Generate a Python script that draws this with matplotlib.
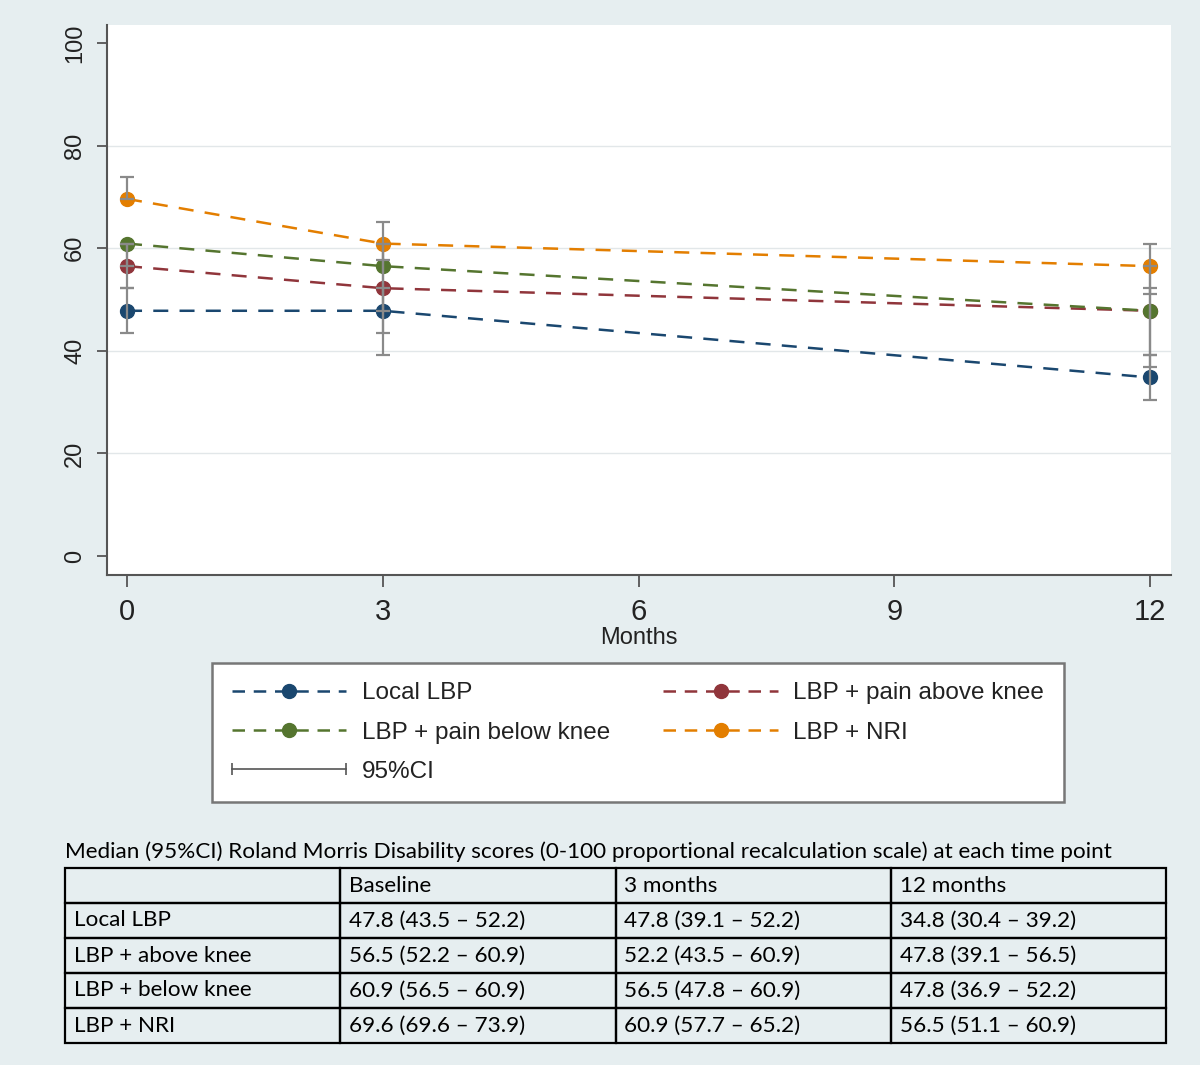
import matplotlib
matplotlib.use('Agg')
import matplotlib.pyplot as plt
from matplotlib.lines import Line2D
from matplotlib.legend_handler import HandlerLine2D
import matplotlib.font_manager as fm

# ---------------- data ----------------
months = [0, 3, 12]
series_labels = ['Local LBP', 'LBP + pain above knee', 'LBP + pain below knee', 'LBP + NRI']
table_row_labels = ['Local LBP', 'LBP + above knee', 'LBP + below knee', 'LBP + NRI']
table_col_labels = ['Baseline', '3 months', '12 months']
colors = ['#1a476f', '#90353b', '#55752f', '#e37e00']

local_med = [47.8, 47.8, 34.8]
local_lo = [43.5, 39.1, 30.4]
local_hi = [52.2, 52.2, 39.2]
above_med = [56.5, 52.2, 47.8]
above_lo = [52.2, 43.5, 39.1]
above_hi = [60.9, 60.9, 56.5]
below_med = [60.9, 56.5, 47.8]
below_lo = [56.5, 47.8, 36.9]
below_hi = [60.9, 60.9, 52.2]
nri_med = [69.6, 60.9, 56.5]
nri_lo = [69.6, 57.7, 51.1]
nri_hi = [73.9, 65.2, 60.9]

x_ticks = [0, 3, 6, 9, 12]
y_ticks = [0, 20, 40, 60, 80, 100]
x_label = 'Months'
ci_label = '95%CI'
table_title = ('Median (95%CI) Roland Morris Disability scores '
               '(0-100 proportional recalculation scale) at each time point')

meds = [local_med, above_med, below_med, nri_med]
los = [local_lo, above_lo, below_lo, nri_lo]
his = [local_hi, above_hi, below_hi, nri_hi]

# ---------------- fonts ----------------
names = {f.name for f in fm.fontManager.ttflist}
plain = 'Liberation Sans' if 'Liberation Sans' in names else 'DejaVu Sans'
tabfont = 'Lato' if 'Lato' in names else 'DejaVu Sans'

BG = '#e6eef0'
W, H = 1200, 1065
fig = plt.figure(figsize=(W / 100, H / 100), dpi=100, facecolor=BG)

def fx(px):
    return px / W

def fy(py):
    return 1 - py / H

# ---------------- main axes ----------------
ax = fig.add_axes([fx(107), fy(575), fx(1171) - fx(107), fy(25) - fy(575)])
ax.set_facecolor('white')
ax.set_xlim(-0.235, 12.246)
ax.set_ylim(-3.7, 103.5)

for v in y_ticks[1:-1]:
    ax.axhline(v, color='#e2e7e9', lw=1.0, zorder=1)

for med, col, lab in zip(meds, colors, series_labels):
    ax.plot(months, med, color=col, lw=1.8, dashes=(6, 4.5), marker='o',
            markersize=10, markerfacecolor=col, markeredgecolor=col,
            zorder=3, label=lab)

for med, lo, hi in zip(meds, los, his):
    yerr = [[m - l for m, l in zip(med, lo)], [h - m for m, h in zip(med, hi)]]
    ax.errorbar(months, med, yerr=yerr, fmt='none', ecolor='#8a8a8a',
                elinewidth=1.6, capsize=5, capthick=1.6, zorder=4)

for s in ['top', 'right']:
    ax.spines[s].set_visible(False)
for s in ['left', 'bottom']:
    ax.spines[s].set_color('#555555')
    ax.spines[s].set_linewidth(1.5)

ax.set_xticks(x_ticks)
ax.set_yticks(y_ticks)
ax.tick_params(axis='y', direction='out', length=7, width=1.3, color='#555555',
               labelsize=17, pad=8, labelcolor='#222222')
ax.tick_params(axis='x', direction='out', length=8.5, width=1.3, color='#555555',
               labelsize=21, pad=8, labelcolor='#222222')
for t in ax.get_yticklabels():
    t.set_rotation(90)
    t.set_va('center')
    t.set_family(plain)
for t in ax.get_xticklabels():
    t.set_family(plain)
ax.set_xlabel(x_label, fontsize=17, family=plain, color='#222222', labelpad=1)

# ---------------- legend ----------------
h_line = [Line2D([0], [0], color=c, lw=1.8, dashes=(5, 3.5), marker='o', markersize=10,
                 markerfacecolor=c, markeredgecolor=c) for c in colors]
h_ci = Line2D([0], [0], color='#555555', lw=1.2, marker='|', markersize=9,
              markeredgewidth=1.2)
handles = [h_line[0], h_line[2], h_ci, h_line[1], h_line[3]]
labels = [series_labels[0], series_labels[2], ci_label, series_labels[1], series_labels[3]]
leg = fig.legend(handles, labels, ncol=2, loc='center',
                 bbox_to_anchor=(fx(638), fy(732.5)),
                 prop={'family': plain, 'size': 17.5},
                 handlelength=4.7, handletextpad=0.65, columnspacing=2.2,
                 labelspacing=0.7, borderpad=0.8, borderaxespad=0,
                 frameon=True, fancybox=False, edgecolor='#777777',
                 facecolor='white', framealpha=1,
                 handler_map={h_ci: HandlerLine2D(numpoints=2, marker_pad=0.0)})
leg.get_frame().set_linewidth(1.8)
for t in leg.get_texts():
    t.set_color('#222222')

# ---------------- table ----------------
title_txt = fig.text(fx(65), fy(852), table_title, ha='left', va='center',
                     family=tabfont, fontsize=14, color='black')
fig.canvas.draw()
r = fig.canvas.get_renderer()
wt = title_txt.get_window_extent(r).width
tsize = 14 * (1050 / wt)
title_txt.set_fontsize(tsize)

tax = fig.add_axes([fx(65), fy(1043), fx(1166) - fx(65), fy(868) - fy(1043)])
tax.set_axis_off()
cell_text = [[''] + table_col_labels]
for lab, med, lo, hi in zip(table_row_labels, meds, los, his):
    cell_text.append([lab] + [f'{m:.1f} ({l:.1f} \u2013 {h:.1f})'
                              for m, l, h in zip(med, lo, hi)])
tbl = tax.table(cellText=cell_text, cellLoc='left', bbox=[0, 0, 1, 1],
                colWidths=[0.25] * 4)
tbl.auto_set_font_size(False)
for (i, j), cell in tbl.get_celld().items():
    cell.set_facecolor('none')
    cell.set_edgecolor('black')
    cell.set_linewidth(1.6)
    cell.PAD = 0.032
    cell.get_text().set_fontsize(tsize)
    cell.get_text().set_family(tabfont)

fig.savefig('out.png', dpi=100, facecolor=BG)
